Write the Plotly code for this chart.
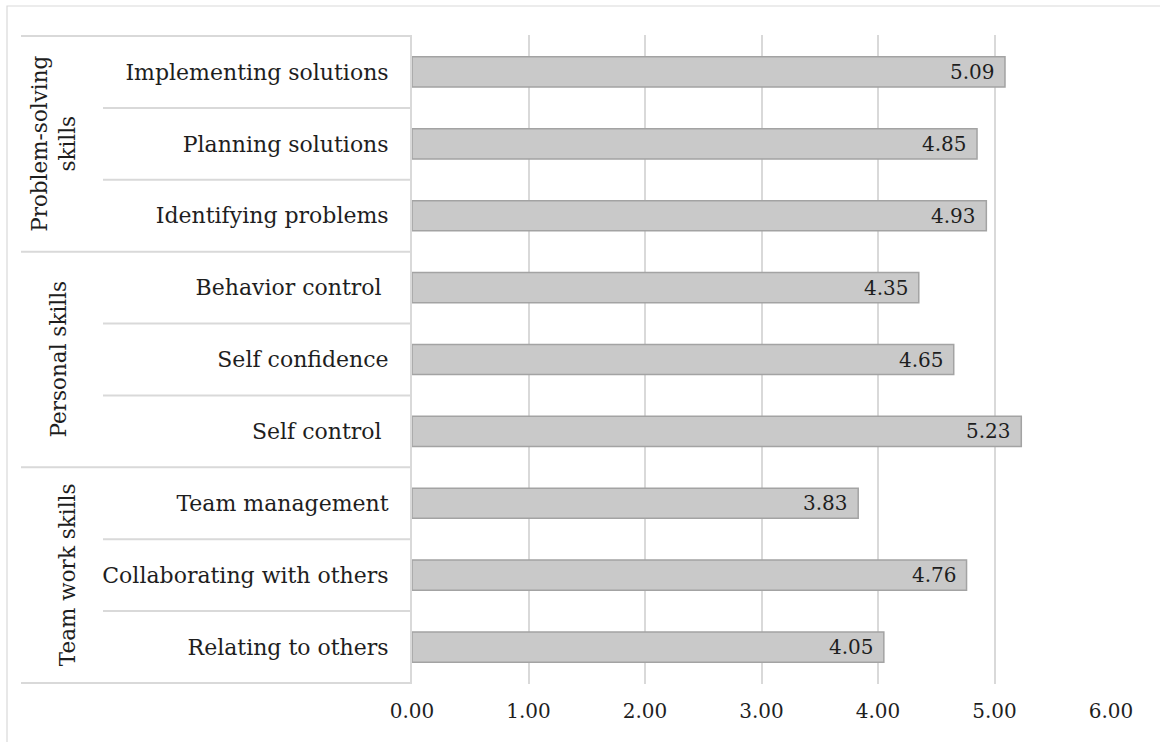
import plotly.graph_objects as go

# Skill scores, listed top to bottom
skills = [
    "Implementing solutions", "Planning solutions", "Identifying problems",
    "Behavior control ", "Self confidence", "Self control ",
    "Team management", "Collaborating with others", "Relating to others",
]
scores = [5.09, 4.85, 4.93, 4.35, 4.65, 5.23, 3.83, 4.76, 4.05]

# Skill groups (label, number of skills in the group), top to bottom
groups = ["Problem-solving<br>skills", "Personal skills", "Team work skills"]
group_sizes = [3, 3, 3]
group_label_x = [54, 58, 67]  # horizontal pixel centre of each rotated group label

x_ticks = [0, 1, 2, 3, 4, 5, 6]

W, H = 1160, 742
L, R, T, B = 412, 49, 35, 58
PW, PH = W - L - R, H - T - B

FONT = "DejaVu Serif"
TXT = "#1e1e1e"
LINE = "#d9d9d9"


def px_x(px):
    return (px - L) / PW


def px_y(py):
    return 1 - (py - T) / PH


fig = go.Figure(
    go.Bar(
        x=scores,
        y=skills,
        orientation="h",
        width=0.42,
        marker=dict(color="#c9c9c9", line=dict(color="#a3a3a3", width=1.5)),
        hoverinfo="x+y",
    )
)

# value labels inside the bar ends
for s, v in zip(skills, scores):
    fig.add_annotation(
        x=v, y=s, xref="x", yref="y", text=f"{v:.2f}", showarrow=False,
        xanchor="right", xshift=-8, font=dict(family=FONT, size=20, color=TXT),
    )

shapes = []
# outer chart border
shapes.append(dict(type="rect", xref="paper", yref="paper",
                   x0=px_x(7), x1=px_x(1175), y0=px_y(6), y1=px_y(760),
                   line=dict(color=LINE, width=1.2), layer="below"))

# category table rules in the label column
boundaries = set()
acc = 0
for n in group_sizes:
    boundaries.add(acc)
    acc += n
boundaries.add(acc)
for i in range(len(skills) + 1):
    start = 21 if i in boundaries else 103
    shapes.append(dict(type="line", xref="paper", yref="y",
                       x0=px_x(start), x1=0, y0=i - 0.5, y1=i - 0.5,
                       line=dict(color=LINE, width=2)))

fig.update_layout(shapes=shapes)

# rotated group labels, centred on their skills
acc = 0
for g, n, gx in zip(groups, group_sizes, group_label_x):
    centre = acc + (n - 1) / 2
    fig.add_annotation(
        x=px_x(gx), y=centre, xref="paper", yref="y", text=g, showarrow=False,
        textangle=-90, xanchor="center", yanchor="middle",
        font=dict(family=FONT, size=21.5, color=TXT),
    )
    acc += n

fig.update_layout(
    width=W, height=H,
    margin=dict(l=L, r=R, t=T, b=B),
    paper_bgcolor="white", plot_bgcolor="white",
    showlegend=False,
    font=dict(family=FONT, color=TXT),
    xaxis=dict(
        range=[0, 6], tickvals=x_ticks,
        ticktext=[f"{t:.2f}" for t in x_ticks],
        showgrid=True, gridcolor=LINE, gridwidth=1.5,
        zeroline=False, showline=False, ticks="",
        tickfont=dict(family=FONT, size=20, color=TXT),
        ticklabelstandoff=13, fixedrange=True,
    ),
    yaxis=dict(
        categoryorder="array", categoryarray=skills,
        autorange="reversed", showgrid=False, zeroline=False,
        showline=True, linecolor=LINE, linewidth=2,
        ticks="", ticklabelstandoff=17,
        tickfont=dict(family=FONT, size=22, color=TXT),
        fixedrange=True,
    ),
)

fig.write_html("out.html")
